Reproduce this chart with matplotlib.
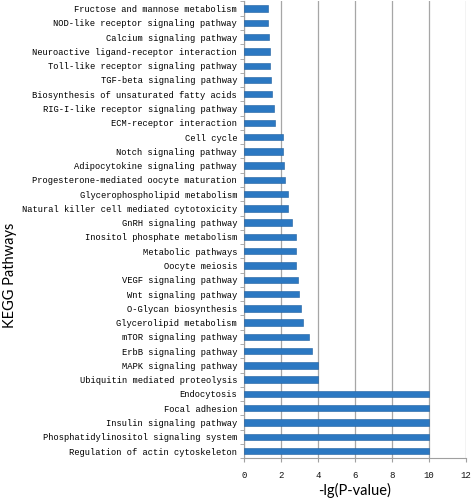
import matplotlib
matplotlib.use("Agg")
import matplotlib.pyplot as plt
import numpy as np

pathways = [
    "Fructose and mannose metabolism",
    "NOD-like receptor signaling pathway",
    "Calcium signaling pathway",
    "Neuroactive ligand-receptor interaction",
    "Toll-like receptor signaling pathway",
    "TGF-beta signaling pathway",
    "Biosynthesis of unsaturated fatty acids",
    "RIG-I-like receptor signaling pathway",
    "ECM-receptor interaction",
    "Cell cycle",
    "Notch signaling pathway",
    "Adipocytokine signaling pathway",
    "Progesterone-mediated oocyte maturation",
    "Glycerophospholipid metabolism",
    "Natural killer cell mediated cytotoxicity",
    "GnRH signaling pathway",
    "Inositol phosphate metabolism",
    "Metabolic pathways",
    "Oocyte meiosis",
    "VEGF signaling pathway",
    "Wnt signaling pathway",
    "O-Glycan biosynthesis",
    "Glycerolipid metabolism",
    "mTOR signaling pathway",
    "ErbB signaling pathway",
    "MAPK signaling pathway",
    "Ubiquitin mediated proteolysis",
    "Endocytosis",
    "Focal adhesion",
    "Insulin signaling pathway",
    "Phosphatidylinositol signaling system",
    "Regulation of actin cytoskeleton",
]
neg_log_p = [1.32, 1.32, 1.35, 1.39, 1.39, 1.44, 1.53, 1.60, 1.66,
             2.11, 2.11, 2.16, 2.23, 2.36, 2.40, 2.58, 2.79, 2.79, 2.79,
             2.90, 2.96, 3.08, 3.21, 3.51, 3.68, 3.98, 4.00,
             10, 10, 10, 10, 10]
x_ticks = [0, 2, 4, 6, 8, 10, 12]

fig = plt.figure(figsize=(4.72, 4.98), dpi=100)
ax = fig.add_axes([0.517, 0.080, 0.470, 0.917])

n = len(pathways)
y = np.arange(n)[::-1]
ax.barh(y, neg_log_p, height=0.45, color="#2b78c2", edgecolor="#1f5f9e", linewidth=0.4, zorder=3)

ax.set_xlim(0, 12)
ax.set_ylim(-0.5, n - 0.5)
ax.set_xticks(x_ticks)
ax.set_xticklabels([str(t) for t in x_ticks], family="Liberation Mono", fontsize=6.5,
                   color="#111111")
ax.set_yticks(y)
ax.set_yticklabels(pathways, family="Liberation Mono", fontsize=6.3, color="#000000")
ax.tick_params(axis="y", length=0, pad=5)
ax.set_yticks(np.arange(-0.5, n, 1), minor=True)
ax.tick_params(axis="y", which="minor", length=3, color="#a0a0a0")
ax.tick_params(axis="x", length=3, color="#a0a0a0", pad=6)

ax.grid(axis="x", color="#a6a6a6", linewidth=0.9, zorder=0)
for s in ["top", "right"]:
    ax.spines[s].set_visible(False)
for s in ["left", "bottom"]:
    ax.spines[s].set_color("#a0a0a0")

ax.set_xlabel("-lg(P-value)", family="Lato", fontsize=10.5, labelpad=2)
fig.text(0.022, 0.448, "KEGG Pathways", family="Lato", fontsize=10.5,
         rotation=90, ha="center", va="center")

fig.savefig("out.png", dpi=100)
